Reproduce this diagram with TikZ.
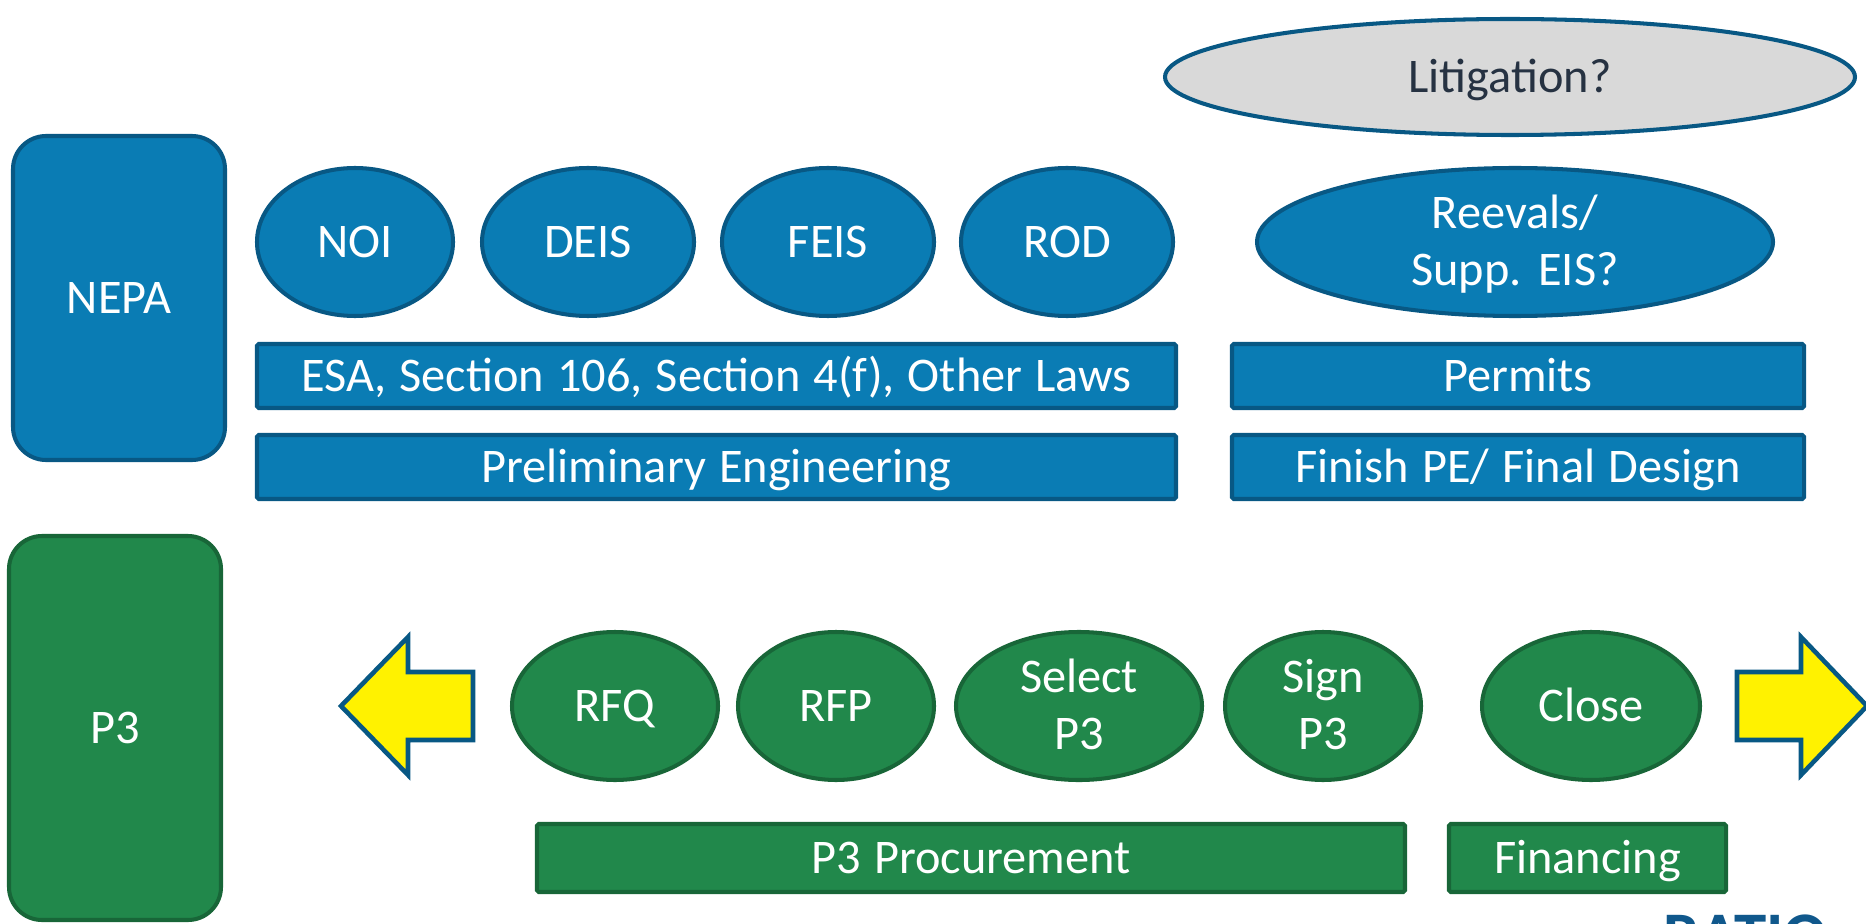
\documentclass[tikz,border=0pt]{standalone}
\usepackage{fontspec}
\setmainfont{Carlito}[WordSpace=1.2]
\usetikzlibrary{shapes,positioning}

\definecolor{nepablue}{RGB}{10,124,180}
\definecolor{nepaedge}{RGB}{8,88,132}
\definecolor{ppgreen}{RGB}{33,136,75}
\definecolor{ppedge}{RGB}{24,102,56}
\definecolor{litgray}{RGB}{217,217,217}
\definecolor{littext}{RGB}{38,50,66}
\definecolor{logoblue}{RGB}{16,88,140}

\tikzset{
  every node/.style={font=\fontsize{27.5}{32.5}\selectfont, text=white, align=center,
                     text height=17.4pt, text depth=0pt},
  twoline/.style={text height=49.9pt, text depth=0pt},
  tall/.style={draw, rectangle, rounded corners=0.66cm, line width=2.3pt, minimum width=4.24cm},
  blob/.style={draw, ellipse, line width=2.3pt, inner sep=0pt, minimum height=2.96cm},
  bar/.style={draw, rectangle, rounded corners=1pt, line width=2.3pt, inner sep=0pt, minimum height=1.28cm},
  nepa/.style={fill=nepablue, draw=nepaedge},
  ppp/.style={fill=ppgreen, draw=ppedge},
  yarrow/.style={fill=yellow, draw=nepaedge, line width=2.6pt, line join=miter}
}

\begin{document}
\begin{tikzpicture}
  \useasboundingbox (0,0) rectangle (37.32,18.46);
  \begin{scope}
  \clip (0,0) rectangle (37.32,18.46);

  % the two tracks
  \node[tall,nepa,minimum height=6.48cm] (nepa) at (2.38,12.5) {NEPA};
  \node[tall,ppp,minimum height=7.68cm] (p3) at (2.30,3.9) {P3};

  % NEPA milestones
  \node[blob,nepa,minimum width=3.92cm] (noi)  at ( 7.10,13.62) {NOI};
  \node[blob,nepa,minimum width=4.24cm] (deis) at (11.76,13.62) {DEIS};
  \node[blob,nepa,minimum width=4.24cm] (feis) at (16.56,13.62) {FEIS};
  \node[blob,nepa,minimum width=4.24cm] (rod)  at (21.34,13.62) {ROD};
  \node[blob,nepa,twoline,minimum width=10.32cm] (reeval) at (30.30,13.62) {Reevals/\\Supp. EIS?};
  \node[blob,fill=litgray,draw=nepaedge,text=littext,minimum width=13.8cm,minimum height=2.32cm] (litig) at (30.20,16.92) {Litigation?};

  \begin{scope}[node distance=1.82cm]
  \node[bar,nepa,minimum width=18.38cm] (laws) at (14.33,10.94) {ESA, Section 106, Section 4(f), Other Laws};
  \node[bar,nepa,minimum width=18.38cm,below of=laws] (prelim) {Preliminary Engineering};
  \node[bar,nepa,minimum width=11.44cm] (permits) at (30.36,10.94) {Permits};
  \node[bar,nepa,minimum width=11.44cm,below of=permits] (final) {Finish PE/ Final Design};
  \end{scope}

  % P3 milestones
  \node[blob,ppp,minimum width=4.12cm] (rfq)    at (12.30,4.34) {RFQ};
  \node[blob,ppp,minimum width=3.92cm] (rfp)    at (16.72,4.34) {RFP};
  \node[blob,ppp,twoline,minimum width=4.92cm] (select) at (21.58,4.34) {Select\\P3};
  \node[blob,ppp,twoline,minimum width=3.92cm] (sign)   at (26.46,4.34) {Sign\\P3};
  \node[blob,ppp,minimum width=4.36cm] (close)  at (31.82,4.34) {Close};

  \node[bar,ppp,minimum width=17.36cm,minimum height=1.36cm] (procure) at (19.42,1.30) {P3 Procurement};
  \node[bar,ppp,minimum width=5.54cm,minimum height=1.36cm] (finance) at (31.75,1.30) {Financing};

  % yellow arrows either side
  \draw[yarrow] (9.46,3.66) -- (8.16,3.66) -- (8.16,2.96) -- (6.82,4.34)
    -- (8.16,5.72) -- (8.16,5.02) -- (9.46,5.02) -- cycle;
  \draw[yarrow] (34.74,3.66) -- (36.02,3.66) -- (36.02,2.96) -- (37.34,4.34)
    -- (36.02,5.72) -- (36.02,5.02) -- (34.74,5.02) -- cycle;

  \node[anchor=north west,inner sep=0pt,text=logoblue,text height=24pt,
        font=\fontsize{37}{40}\selectfont\bfseries] (logo) at (33.26,0.16) {RATIO};
  \end{scope}
\end{tikzpicture}
\end{document}
